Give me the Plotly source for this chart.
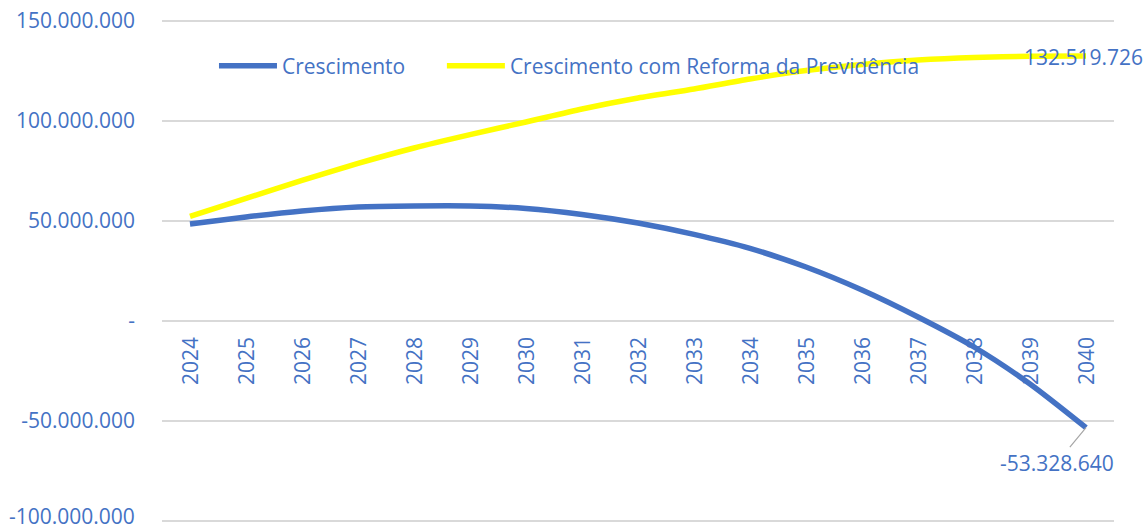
import plotly.graph_objects as go

years = [str(y) for y in range(2024, 2041)]
crescimento = [48.5e6, 52.0e6, 55.0e6, 57.0e6, 57.5e6, 57.5e6, 56.3e6, 53.3e6, 49.0e6,
               43.3e6, 36.3e6, 27.0e6, 15.5e6, 2.0e6, -13.0e6, -31.5e6, -53328640]
reforma = [52.3e6, 61.3e6, 70.3e6, 78.8e6, 86.5e6, 93.2e6, 99.5e6, 106.0e6, 111.5e6,
           116.0e6, 121.0e6, 125.2e6, 128.3e6, 130.5e6, 131.8e6, 132.4e6, 132519726]
series_names = ["Crescimento", "Crescimento com Reforma da Previdência"]
y_tickvals = [-100e6, -50e6, 0, 50e6, 100e6, 150e6]
y_ticktext = ["-100.000.000", "-50.000.000", "-", "50.000.000", "100.000.000", "150.000.000"]

BLUE = "#4472C4"
YELLOW = "#FFFF00"
FONT = "Open Sans"
FS = 21

def fmt(v):
    s = f"{abs(int(round(v))):,}".replace(",", ".")
    return ("-" if v < 0 else "") + s

fig = go.Figure()
fig.add_trace(go.Scatter(x=years, y=crescimento, name=series_names[0], mode="lines",
                         legend="legend",
                         line=dict(color=BLUE, width=5.5, shape="spline", smoothing=0.7)))
fig.add_trace(go.Scatter(x=years, y=reforma, name=series_names[1], mode="lines",
                         legend="legend2",
                         line=dict(color=YELLOW, width=5.5, shape="spline", smoothing=0.7)))

# category labels placed along the zero line (x given as category index)
for i, yr in enumerate(years):
    fig.add_annotation(x=i, y=0, xref="x", yref="y", text=yr, showarrow=False,
                       textangle=-90, xanchor="center", yanchor="top", yshift=-14,
                       font=dict(family=FONT, size=FS, color=BLUE))

# the lowest y label is drawn as an annotation so it stays inside the page
shown_ticktext = [""] + y_ticktext[1:]
fig.add_annotation(x=0, xref="paper", y=y_tickvals[0], yref="y", text=y_ticktext[0],
                   showarrow=False, xanchor="right", yanchor="bottom", xshift=-25, yshift=-11,
                   font=dict(family=FONT, size=FS, color=BLUE))

last = len(years) - 1
fig.add_annotation(x=last, y=reforma[-1], text=fmt(reforma[-1]), showarrow=False,
                   xanchor="center", yanchor="middle", xshift=-3, yshift=-1,
                   font=dict(family=FONT, size=FS, color=BLUE))
fig.add_annotation(x=last, y=crescimento[-1], text=fmt(crescimento[-1]), showarrow=True,
                   arrowhead=0, arrowwidth=1.2, arrowcolor="#A6A6A6", ax=-29, ay=35, standoff=0,
                   font=dict(family=FONT, size=FS, color=BLUE))

# plot area: 150M at y=21px, -100M at y=521px (2 px per million); range padded 1.5M each side
legend_common = dict(orientation="h", y=(521 + 3 - 66) / 506, xanchor="left", yanchor="middle",
                     font=dict(family=FONT, size=FS, color=BLUE), bgcolor="rgba(0,0,0,0)",
                     itemwidth=58)

fig.update_layout(
    width=1146, height=532,
    margin=dict(l=162, r=32, t=18, b=8, autoexpand=False),
    paper_bgcolor="white", plot_bgcolor="white",
    font=dict(family=FONT, size=FS, color=BLUE),
    showlegend=True,
    legend=dict(x=0.0546, **legend_common),
    legend2=dict(x=0.294, **legend_common),
    xaxis=dict(type="category", range=[-0.5, 16.5], showgrid=False, showline=False,
               zeroline=False, showticklabels=False, ticks="", automargin=False),
    yaxis=dict(range=[-101.5e6, 151.5e6], tickvals=y_tickvals, ticktext=shown_ticktext,
               showgrid=True, gridcolor="#D9D9D9", gridwidth=1.5,
               zeroline=True, zerolinecolor="#D9D9D9", zerolinewidth=1.5,
               showline=False, ticks="", ticklabelstandoff=26, automargin=False,
               tickfont=dict(family=FONT, size=FS, color=BLUE)),
)

fig.write_html("out.html", config={"displayModeBar": False},
               post_script="document.body.style.margin='0';")
